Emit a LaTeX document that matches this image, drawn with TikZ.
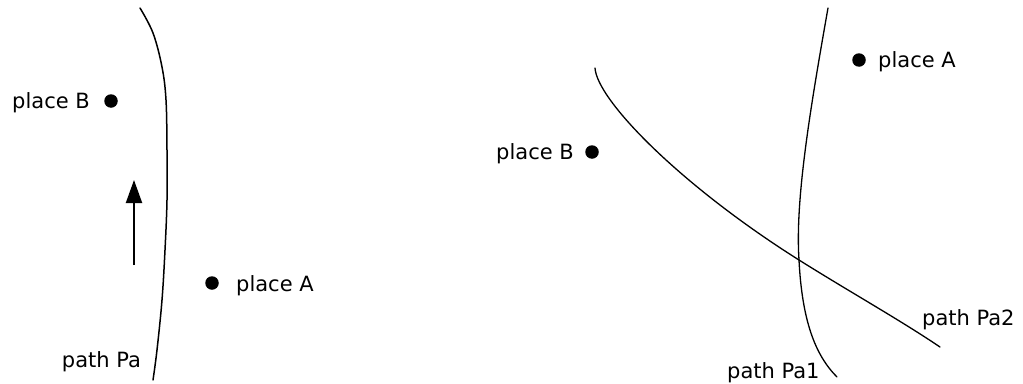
\documentclass[tikz,border=0pt]{standalone}
\usepackage{fontspec}
\setmainfont{DejaVu Sans}
\usetikzlibrary{arrows.meta}
\tikzset{
  dot/.style={circle,fill=black,inner sep=0pt,minimum size=13.5pt},
  lbl/.style={inner sep=0pt,font=\fontsize{21}{24}\selectfont},
  pathline/.style={line width=1.5pt,line cap=round},
}
\begin{document}
\begin{tikzpicture}[x=1pt,y=-1pt]
\useasboundingbox (0,0) rectangle (1023,383);
% ---------- left picture ----------
\draw[pathline] plot[smooth,tension=0.6] coordinates
  {(140,8) (153,33) (162,67) (166,100) (167,150) (167,200) (165,250) (162,300) (157,350) (153,380)};
\node[dot] (dB1) at (111,101) {};
\node[lbl,anchor=base east] (tB1) at (90,108) {place B};
\node[dot] (dA1) at (212,283) {};
\node[lbl,anchor=base west] (tA1) at (236,291) {place A};
\node[lbl,anchor=base] (tP1) at (101.5,367) {path Pa};
\coordinate (arS) at (134,265);
\coordinate (arE) at (134,180);
\draw[line width=2pt,-{Triangle[width=16pt,length=23pt]}] (arS) -- (arE);
% ---------- right picture ----------
\coordinate (x) at (799,260);
\draw[pathline,line width=1.3pt] (828,8) .. controls (810,110) and (795,200) .. (x)
  .. controls (802,320) and (815,355) .. (837,377);
\draw[pathline,line width=1.3pt] (595,68) .. controls (597,100) and (680,185) .. (x)
  .. controls (850,292) and (900,320) .. (940,347);
\node[dot] (dA2) at (859,60) {};
\node[lbl,anchor=base west] (tA2) at (878,67) {place A};
\node[dot] (dB2) at (592,152) {};
\node[lbl,anchor=base east] (tB2) at (574,159) {place B};
\node[lbl,anchor=base west] (tP2) at (922,325) {path Pa2};
\node[lbl,anchor=base west] (tP3) at (727,378) {path Pa1};
\end{tikzpicture}
\end{document}
